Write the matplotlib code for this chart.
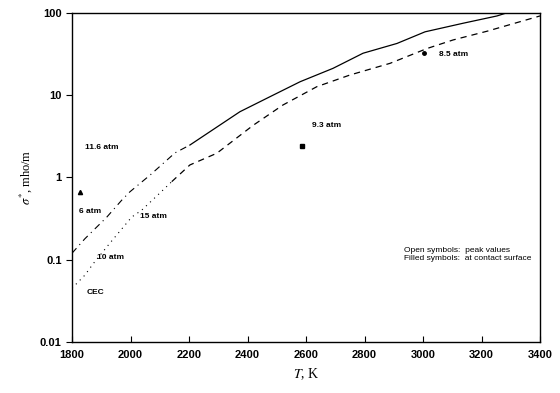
import matplotlib.pyplot as plt
from matplotlib.ticker import FixedLocator, FixedFormatter

# upper curve (dash-dot at low T, solid above)
T_up_lo = [1800, 1844, 1919, 1970, 1998, 2067, 2152, 2203]
s_up_lo = [0.12, 0.18, 0.33, 0.53, 0.67, 1.07, 1.99, 2.48]
T_up_hi = [2203, 2374, 2477, 2580, 2692, 2795, 2911, 3007, 3137, 3253, 3300, 3400]
s_up_hi = [2.48, 6.3, 9.6, 14.6, 21.2, 32.4, 42.6, 59, 75, 92, 104, 115]

# lower curve (dotted at low T, dashed above)
T_lo_lo = [1800, 1844, 1873, 1930, 2004, 2038, 2101, 2141]
s_lo_lo = [0.045, 0.065, 0.09, 0.16, 0.33, 0.40, 0.65, 0.89]
T_lo_hi = [2141, 2203, 2295, 2419, 2521, 2637, 2750, 2887, 3014, 3103, 3219, 3400]
s_lo_hi = [0.89, 1.42, 1.97, 4.3, 7.6, 12.7, 17.6, 24.4, 37, 47, 60, 92]

# filled symbols
T_tri, s_tri = [1827], [0.67]
T_sq, s_sq = [2586], [2.42]
T_dot, s_dot = [3003], [32.5]

# curve / point labels: (T, sigma, text)
labels = [
    (1843, 2.3, "11.6 atm"),
    (1823, 0.39, "6 atm"),
    (2032, 0.34, "15 atm"),
    (1885, 0.105, "10 atm"),
    (1849, 0.04, "CEC"),
    (2620, 4.3, "9.3 atm"),
    (3055, 31, "8.5 atm"),
]

xticks = [1800, 2000, 2200, 2400, 2600, 2800, 3000, 3200, 3400]
yticks = [0.01, 0.1, 1, 10, 100]
ytick_labels = ["0.01", "0.1", "1", "10", "100"]

plt.rcParams['font.family'] = ['Liberation Sans', 'DejaVu Sans']
plt.rcParams['mathtext.fontset'] = 'stix'

fig = plt.figure(figsize=(5.6, 3.93), dpi=100)
ax = fig.add_axes([0.1286, 0.1298, 0.8357, 0.8372])

ax.plot(T_up_lo, s_up_lo, color='black', lw=0.8, linestyle=(0, (6, 4, 1, 4)))
ax.plot(T_up_hi, s_up_hi, color='black', lw=0.9, linestyle='-')
ax.plot(T_lo_lo, s_lo_lo, color='black', lw=0.8, linestyle=(0, (1, 4)))
ax.plot(T_lo_hi, s_lo_hi, color='black', lw=0.9, linestyle=(0, (5, 4)))

ax.plot(T_tri, s_tri, '^', color='black', ms=3)
ax.plot(T_sq, s_sq, 's', color='black', ms=2.5)
ax.plot(T_dot, s_dot, 'o', color='black', ms=2.5)

for t, s, txt in labels:
    ax.text(t, s, txt, fontsize=6, ha='left', va='center', fontweight='bold')

ax.text(2935, 0.115, "Open symbols:  peak values\nFilled symbols:  at contact surface",
        fontsize=6, ha='left', va='center', linespacing=1.1)

ax.set_yscale('log')
ax.set_xlim(1800, 3400)
ax.set_ylim(0.01, 100)
ax.xaxis.set_major_locator(FixedLocator(xticks))
ax.yaxis.set_major_locator(FixedLocator(yticks))
ax.yaxis.set_major_formatter(FixedFormatter(ytick_labels))
ax.yaxis.set_minor_locator(FixedLocator([]))
ax.tick_params(axis='x', direction='in', length=4, labelsize=8, pad=6)
ax.tick_params(axis='y', direction='out', length=4, labelsize=8)
for lab in ax.get_xticklabels() + ax.get_yticklabels():
    lab.set_fontweight('bold')
for sp in ax.spines.values():
    sp.set_linewidth(1.0)

ax.set_xlabel(r"$T$, K", fontsize=10, family='Liberation Serif')
ax.set_ylabel(r"$\sigma^{*}$, mho/m", fontsize=9, family='Liberation Serif')

fig.savefig("out.png", dpi=100)
